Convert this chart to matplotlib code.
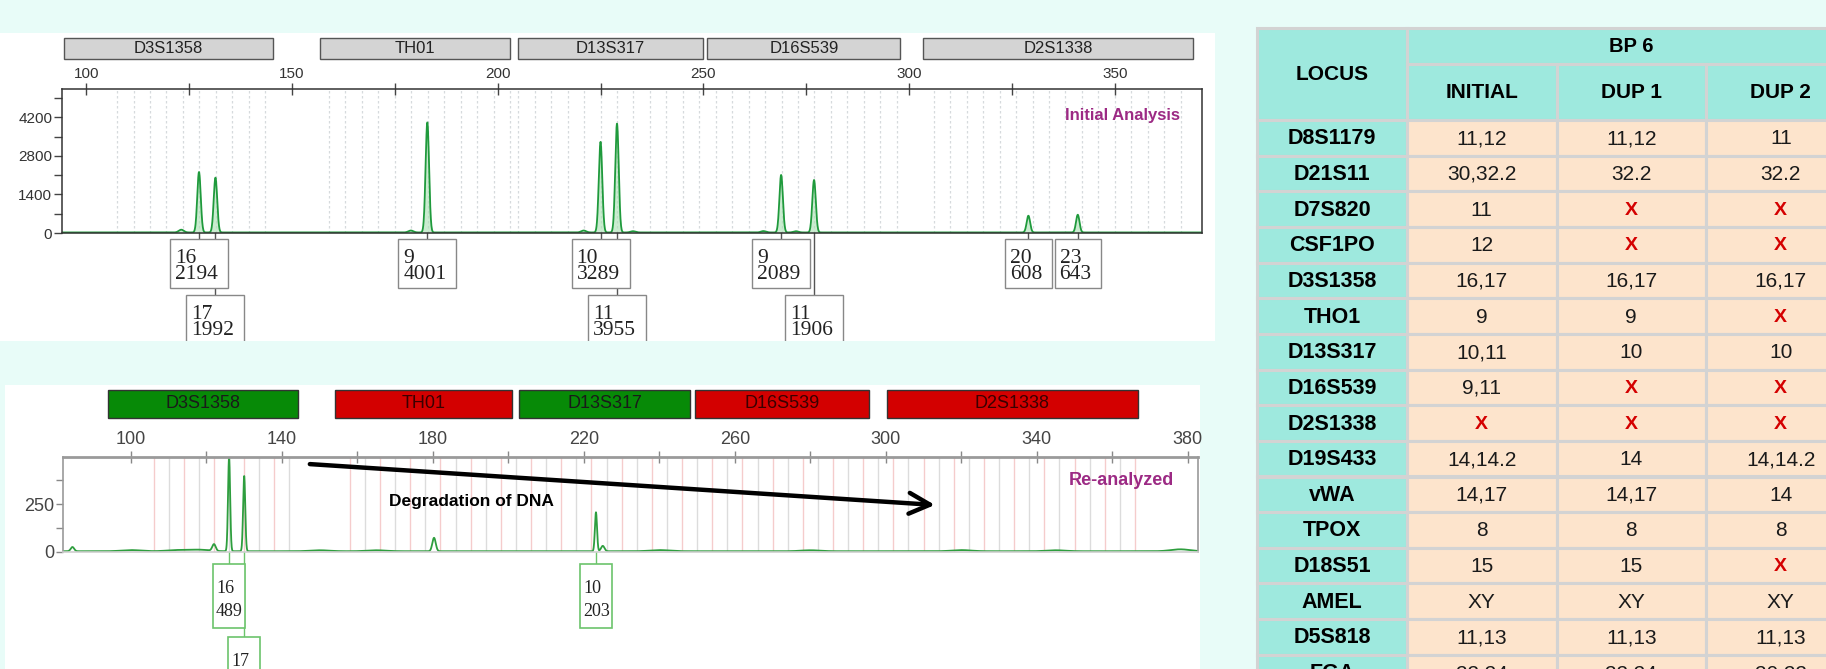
import numpy as np
import matplotlib
matplotlib.use('Agg')
import matplotlib.pyplot as plt
from matplotlib.patches import Rectangle
from matplotlib.transforms import blended_transform_factory as blend

W, H = 1826, 669
SANS = ['Liberation Sans', 'DejaVu Sans']
NARROW = ['Liberation Sans Narrow', 'Liberation Sans', 'DejaVu Sans']
SERIF = ['Liberation Serif', 'DejaVu Serif']
PURPLE = '#9c2a84'

# initial analysis electropherogram
loci = ['D3S1358', 'TH01', 'D13S317', 'D16S539', 'D2S1338']
top_loci_start = [94.5, 156.9, 205.0, 251.0, 303.5]
top_loci_end = [145.3, 203.1, 249.8, 297.9, 368.9]
top_allele = ['16', '17', '9', '10', '11', '9', '11', '20', '23']
top_size = [127.4, 131.4, 182.9, 225.0, 229.0, 268.9, 276.9, 329.0, 341.0]
top_height = [2194, 1992, 4001, 3289, 3955, 2089, 1906, 608, 643]
top_row = [0, 1, 0, 0, 1, 0, 1, 0, 0]
top_minor_size = [123.1, 178.9, 220.9, 232.9, 264.6, 272.5]
top_minor_height = [100, 70, 70, 45, 50, 45]
top_bins = [(107.5, 145), (159, 203), (205, 249), (253, 297), (306, 368)]

# re-analyzed electropherogram
bot_loci_start = [94.0, 154.0, 202.8, 249.4, 300.3]
bot_loci_end = [144.2, 200.9, 248.1, 295.5, 366.8]
bot_loci_ok = [True, False, True, False, False]
bot_allele = ['16', '17', '10']
bot_size = [126.0, 130.0, 223.2]
bot_height = [489, 392, 203]
bot_row = [0, 1, 0]
bot_minor_size = [84.5, 122.0, 180.3, 225.0]
bot_minor_height = [22, 35, 70, 28]
bot_noise_size = [100, 112, 118, 150, 165, 240, 280, 320, 345, 378]
bot_noise_height = [6, 6, 8, 5, 5, 6, 5, 6, 5, 10]
bot_bins = [(106, 142), (158, 202), (206, 246), (250, 298), (302, 366)]

# genotype table
table_loci = ['D8S1179', 'D21S11', 'D7S820', 'CSF1PO', 'D3S1358', 'THO1', 'D13S317',
              'D16S539', 'D2S1338', 'D19S433', 'vWA', 'TPOX', 'D18S51', 'AMEL',
              'D5S818', 'FGA']
initial = ['11,12', '30,32.2', '11', '12', '16,17', '9', '10,11', '9,11', 'X',
           '14,14.2', '14,17', '8', '15', 'XY', '11,13', '22,24']
dup1 = ['11,12', '32.2', 'X', 'X', '16,17', '9', '10', 'X', 'X', '14', '14,17',
        '8', '15', 'XY', '11,13', '22,24']
dup2 = ['11', '32.2', 'X', 'X', '16,17', 'X', '10', 'X', 'X', '14,14.2', '14',
        '8', 'X', 'XY', '11,13', '20,22']
sample = 'BP 6'
replicates = ['INITIAL', 'DUP 1', 'DUP 2']


def rect(x0, y0, x1, y1):
    return [x0 / W, 1 - y1 / H, (x1 - x0) / W, (y1 - y0) / H]


def trace(x, sizes, heights, sigma):
    y = np.zeros_like(x)
    for s, h in zip(sizes, heights):
        y += h * np.exp(-0.5 * ((x - s) / sigma) ** 2)
    return y


fig = plt.figure(figsize=(W / 100, H / 100), dpi=100, facecolor='#e8fcf8')
canvas = fig.add_axes([0, 0, 1, 1])
canvas.set_xlim(0, W)
canvas.set_ylim(H, 0)
canvas.axis('off')
top_panel = Rectangle((0, 33), 1215, 308, fc='white', ec='none')
canvas.add_patch(top_panel)
canvas.add_patch(Rectangle((5, 385), 1195, 290, fc='white', ec='none'))

# ---------- table ----------
col_x = [1257, 1407, 1556.5, 1706, 1855.5]
teal, peach, grid = '#9ee9de', '#fde4cc', '#d3d3d3'
row_h = 35.65


def cell(x0, y0, x1, y1, fc):
    canvas.add_patch(Rectangle((x0, y0), x1 - x0, y1 - y0, fc=fc, ec=grid, lw=2.2))


cell(col_x[0], 28, col_x[1], 120, teal)
canvas.text((col_x[0] + col_x[1]) / 2, 75, 'LOCUS', ha='center', va='center',
            fontsize=15, fontweight='bold', family=SANS)
cell(col_x[1], 28, col_x[4], 64, teal)
canvas.text((col_x[1] + col_x[4]) / 2, 47, sample, ha='center', va='center',
            fontsize=14.5, fontweight='bold', family=SANS)
for j, name in enumerate(replicates):
    cell(col_x[j + 1], 64, col_x[j + 2], 120, teal)
    canvas.text((col_x[j + 1] + col_x[j + 2]) / 2, 93, name, ha='center', va='center',
                fontsize=15, fontweight='bold', family=SANS)

for i, locus in enumerate(table_loci):
    y0 = 120 + i * row_h
    yc = y0 + row_h / 2 + 1
    cell(col_x[0], y0, col_x[1], y0 + row_h, teal)
    canvas.text((col_x[0] + col_x[1]) / 2, yc, locus, ha='center', va='center',
                fontsize=15.5, fontweight='bold', family=SANS)
    for j, vals in enumerate([initial, dup1, dup2]):
        cell(col_x[j + 1], y0, col_x[j + 2], y0 + row_h, peach)
        v = vals[i]
        if v == 'X':
            canvas.text((col_x[j + 1] + col_x[j + 2]) / 2, yc, v, ha='center', va='center',
                        fontsize=14, fontweight='bold', color='#d40000', family=SANS)
        else:
            canvas.text((col_x[j + 1] + col_x[j + 2]) / 2, yc, v, ha='center', va='center',
                        fontsize=15, color='#1a1a1a', family=SANS)

# ---------- initial analysis ----------
ax1 = fig.add_axes(rect(62, 89, 1202, 233))
x1min, x1max = 94.1, 371.2
ax1.set_xlim(x1min, x1max)
ax1.set_ylim(0, 5230)
ppb1 = 1140 / (x1max - x1min)
tr1 = blend(ax1.transData, ax1.transAxes)

for a, b in top_bins:
    for v in np.arange(a, b + 0.1, 4):
        ax1.axvline(v, color='#d6dadd', lw=0.9, ls=(0, (2, 2)), zorder=0)

xs = np.linspace(x1min, x1max, 6000)
ys = trace(xs, top_size, top_height, 0.42) + trace(xs, top_minor_size, top_minor_height, 0.6) + 20
ax1.fill_between(xs, 0, ys, color='#a8e0b2', alpha=0.6, lw=0, zorder=1)
ax1.plot(xs, ys, color='#1f9a3c', lw=1.3, zorder=2)

ax1.xaxis.tick_top()
ax1.set_xticks(np.arange(100, 351, 50))
ax1.set_xticks(np.arange(125, 351, 50), minor=True)
ax1.set_yticks([0, 1400, 2800, 4200])
ax1.set_yticks([700, 2100, 3500, 4900], minor=True)
ax1.tick_params(axis='x', which='both', direction='inout', length=8, width=1,
                pad=2, labelsize=11, labelcolor='#333', color='#444')
ax1.tick_params(axis='y', which='both', direction='out', length=6, width=1,
                pad=1, labelsize=11, labelcolor='#333', color='#444')
for lbl in ax1.get_xticklabels() + ax1.get_yticklabels():
    lbl.set_family(SANS)
for sp in ax1.spines.values():
    sp.set_color('#333')
    sp.set_linewidth(1.1)

for name, s, e in zip(loci, top_loci_start, top_loci_end):
    ax1.add_patch(Rectangle((s, 1.208), e - s, 0.146, transform=tr1, clip_on=False,
                            fc='#d4d4d4', ec='#555', lw=1))
    ax1.text((s + e) / 2, 1.281, name, transform=tr1, ha='center', va='center',
             fontsize=12, color='#222', family=SANS)

for al, p, h, r in zip(top_allele, top_size, top_height, top_row):
    box_top = 239 if r == 0 else 295
    bh = 49
    w = (12 + 11.5 * len(str(h))) / ppb1
    ax1.plot([p, p], [0, (233 - box_top) / 144], transform=tr1, color='#555',
             lw=1, clip_on=False, zorder=2.5)
    box = Rectangle((p - w / 2, (233 - box_top - bh) / 144), w, bh / 144, transform=tr1,
                    fc='white', ec='#888', lw=1, zorder=3)
    ax1.add_patch(box)
    box.set_clip_path(top_panel)
    t = ax1.text(p - w / 2 + 5 / ppb1, (233 - box_top - bh / 2 - 3) / 144, f'{al}\n{h}',
                 transform=tr1, ha='left', va='center', fontsize=15.5, family=SERIF,
                 linespacing=0.85, color='#222', zorder=4)
    t.set_clip_path(top_panel)

ax1.text(365.8, 4255, 'Initial Analysis', ha='right', va='center', fontsize=12,
         fontweight='bold', color=PURPLE, family=SANS)

# ---------- re-analyzed ----------
ax2 = fig.add_axes(rect(63, 457, 1198, 552))
x2min, x2max = 82.0, 382.7
ax2.set_xlim(x2min, x2max)
ax2.set_ylim(0, 495)
ppb2 = 1135 / (x2max - x2min)
tr2 = blend(ax2.transData, ax2.transAxes)

k = 0
for a, b in bot_bins:
    for v in np.arange(a, b + 0.1, 4):
        ax2.axvline(v, color='#f5cccc' if k % 2 == 0 else '#dcdcdc', lw=1, zorder=0)
        k += 1

xs = np.linspace(x2min, x2max, 8000)
ys = (trace(xs, bot_size, bot_height, 0.28) + trace(xs, bot_minor_size, bot_minor_height, 0.45)
      + trace(xs, bot_noise_size, bot_noise_height, 2.5) + 4)
ax2.plot(xs, ys, color='#2e9e3e', lw=1.3, zorder=2)

ax2.xaxis.tick_top()
ax2.set_xticks(np.arange(100, 381, 40))
ax2.set_xticks(np.arange(120, 361, 40), minor=True)
ax2.set_yticks([0, 250])
ax2.set_yticks([125, 375], minor=True)
ax2.tick_params(axis='x', which='both', direction='inout', length=9, width=1,
                pad=2, labelsize=13, labelcolor='#444', color='#888')
ax2.tick_params(axis='y', which='both', direction='out', length=5, width=1,
                pad=1, labelsize=13, labelcolor='#444', color='#888')
for lbl in ax2.get_xticklabels() + ax2.get_yticklabels():
    lbl.set_family(NARROW)
for sp in ax2.spines.values():
    sp.set_color('#9a9a9a')
    sp.set_linewidth(1.2)
ax2.spines['top'].set_linewidth(2)
ax2.spines['bottom'].set_color('#cfcfcf')

for name, s, e, ok in zip(loci, bot_loci_start, bot_loci_end, bot_loci_ok):
    ax2.add_patch(Rectangle((s, 1.411), e - s, 0.294, transform=tr2, clip_on=False,
                            fc='#078a07' if ok else '#d30000', ec='#333', lw=1))
    ax2.text((s + e) / 2, 1.558, name, transform=tr2, ha='center', va='center',
             fontsize=13, color='#1a1a1a' if ok else '#3a0000', family=NARROW)

for al, p, h, r in zip(bot_allele, bot_size, bot_height, bot_row):
    box_top = 564 if r == 0 else 637
    bh = 64
    w = 32 / ppb2
    ax2.plot([p, p], [0, (552 - box_top) / 95], transform=tr2, color='#6cc46c',
             lw=1, clip_on=False, zorder=2.5)
    ax2.add_patch(Rectangle((p - w / 2, (552 - box_top - bh) / 95), w, bh / 95,
                            transform=tr2, clip_on=False, fc='white', ec='#6cc46c',
                            lw=1.2, zorder=3))
    ax2.text(p - w / 2 + 3 / ppb2, (552 - box_top - bh / 2 - 4) / 95, f'{al}\n{h}',
             transform=tr2, ha='left', va='center', fontsize=13, family=SERIF,
             linespacing=1.44, color='#222', zorder=4, clip_on=False)

ax2.annotate('', xy=(313.0, 245), xytext=(147.4, 458),
             arrowprops=dict(arrowstyle='->,head_length=1.5,head_width=0.75', lw=3.2,
                             color='black', shrinkA=0, shrinkB=0),
             annotation_clip=False, zorder=5)
ax2.text(190.3, 262, 'Degradation of DNA', ha='center', va='center', fontsize=12.5,
         fontweight='bold', family=SANS, zorder=5)
ax2.text(376.3, 372, 'Re-analyzed', ha='right', va='center', fontsize=13,
         fontweight='bold', color=PURPLE, family=SANS)

fig.savefig('out.png', dpi=100, facecolor=fig.get_facecolor())
plt.close(fig)
